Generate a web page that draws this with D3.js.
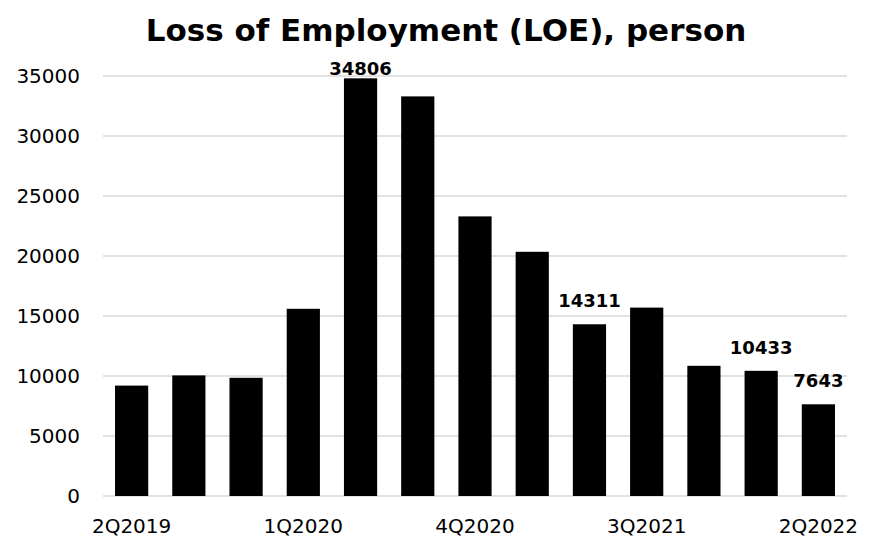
<!DOCTYPE html>
<html>
<head>
<meta charset="utf-8">
<script src="https://cdn.jsdelivr.net/npm/d3@7"></script>
<style>
  html, body { margin: 0; padding: 0; background: #fff; }
  svg { display: block; }
</style>
</head>
<body>
<svg id="chart" width="885" height="542"></svg>
<script>
// Quarterly loss of employment, persons
const quarters = ["2Q2019","3Q2019","4Q2019","1Q2020","2Q2020","3Q2020","4Q2020",
                  "1Q2021","2Q2021","3Q2021","4Q2021","1Q2022","2Q2022"];
const persons = [9200, 10050, 9850, 15600, 34806, 33300, 23300,
                 20350, 14311, 15700, 10850, 10433, 7643];
const labelledQuarters = ["2Q2020","2Q2021","1Q2022","2Q2022"];
const xTickLabels = ["2Q2019","1Q2020","4Q2020","3Q2021","2Q2022"];
const yTicks = [0, 5000, 10000, 15000, 20000, 25000, 30000, 35000];

const svg = d3.select("#chart");
const W = 885, H = 542;
const m = { top: 76, right: 38, bottom: 46, left: 103 };
const innerW = W - m.left - m.right;
const innerH = H - m.top - m.bottom;

const font = "'DejaVu Sans', sans-serif";

const x = d3.scaleBand().domain(quarters).range([0, innerW]).paddingInner(0.42).paddingOuter(0.21);
const y = d3.scaleLinear().domain([0, 35000]).range([innerH, 0]);

// Title
svg.append("text")
  .attr("x", 446).attr("y", 41)
  .attr("text-anchor", "middle")
  .attr("font-family", font).attr("font-weight", "bold").attr("font-size", 31)
  .attr("fill", "#000")
  .text("Loss of Employment (LOE), person");

const g = svg.append("g").attr("transform", `translate(${m.left},${m.top})`);

// Horizontal gridlines
g.append("g").selectAll("line").data(yTicks).join("line")
  .attr("x1", 0).attr("x2", innerW)
  .attr("y1", d => y(d)).attr("y2", d => y(d))
  .attr("stroke", "#d9d9d9").attr("stroke-width", 1.5);

// Y axis labels
const yAxis = d3.axisLeft(y).tickValues(yTicks).tickSize(0).tickPadding(23).tickFormat(d3.format("d"));
g.append("g").call(yAxis)
  .call(a => a.select(".domain").remove())
  .selectAll("text")
  .attr("font-family", font).attr("font-size", 20).attr("fill", "#000");

// X axis labels (every third quarter)
const xAxis = d3.axisBottom(x).tickValues(xTickLabels).tickSize(0).tickPadding(23);
g.append("g").attr("transform", `translate(0,${innerH})`).call(xAxis)
  .call(a => a.select(".domain").remove())
  .selectAll("text")
  .attr("font-family", font).attr("font-size", 20).attr("fill", "#000");

// Bars
g.append("g").selectAll("rect").data(quarters).join("rect")
  .attr("x", d => x(d))
  .attr("width", x.bandwidth())
  .attr("y", (d, i) => y(persons[i]))
  .attr("height", (d, i) => innerH - y(persons[i]))
  .attr("fill", "#000");

// Value labels on selected bars
const labelled = quarters.map((q, i) => ({ q, v: persons[i] }))
  .filter(d => labelledQuarters.includes(d.q));
g.append("g").selectAll("text").data(labelled).join("text")
  .attr("x", d => x(d.q) + x.bandwidth() / 2)
  .attr("y", d => Math.max(y(d.v) - 17, -1))
  .attr("text-anchor", "middle")
  .attr("font-family", font).attr("font-weight", "bold").attr("font-size", 18)
  .attr("fill", "#000")
  .text(d => d.v);
</script>
</body>
</html>
